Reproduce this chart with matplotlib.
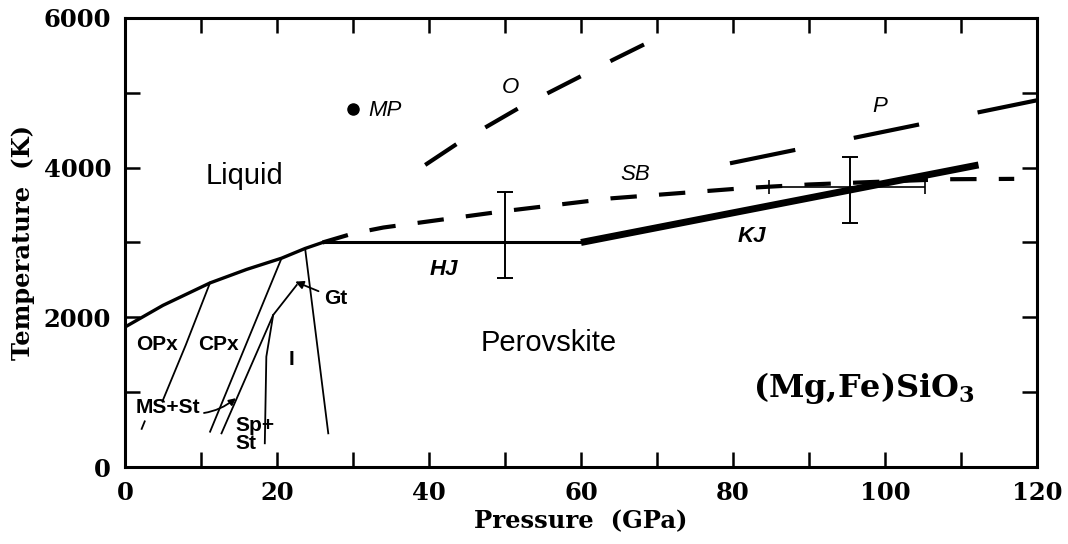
import matplotlib
matplotlib.use("Agg")
import matplotlib.pyplot as plt
from matplotlib.ticker import MultipleLocator

# melting curve (solidus) and perovskite melting curves
melt_p = [0, 5, 11.2, 16, 20.6, 23.7, 26]
melt_t = [1870, 2160, 2460, 2640, 2790, 2920, 3000]
hj_p = [26, 60]
hj_t = [3000, 3000]
kj_p = [60, 112.3]
kj_t = [3000, 4036]
sb_p = [26, 30, 34, 50, 64, 73, 82, 90, 100, 108, 117]
sb_t = [3000, 3120, 3200, 3420, 3590, 3660, 3730, 3775, 3815, 3845, 3850]
o_p = [39.5, 43.8, 47.6, 52, 64.2, 68.7]
o_t = [4036, 4326, 4548, 4807, 5440, 5666]
p_p = [79.6, 120]
p_t = [4058, 4900]
mp_p, mp_t = 30, 4780

# error bars
hj_bar = (50, 3100, 580)
kj_bar_v = (95.4, 3700, 445)
kj_bar_h = (95, 3735, 10.3)

# subsolidus phase boundaries
opx_cpx_hi_p = [11.2, 8.0, 5.0]
opx_cpx_hi_t = [2463, 1630, 895]
opx_cpx_lo_p = [2.6, 2.2]
opx_cpx_lo_t = [610, 510]
line_a_p = [20.6, 11.2]
line_a_t = [2789, 472]
line_b_p = [22.6, 19.5, 12.7]
line_b_t = [2432, 2031, 450]
line_c_p = [19.5, 18.6, 18.4]
line_c_t = [2031, 1474, 317]
line_d_p = [23.7, 26.75]
line_d_t = [2922, 450]

plt.rcParams['lines.scale_dashes'] = False
plt.rcParams['mathtext.default'] = 'regular'

fig = plt.figure(figsize=(10.68, 5.44), dpi=100)
ax = fig.add_axes([0.117, 0.1415, 0.854, 0.8255])

k = 'black'
ax.plot(melt_p, melt_t, color=k, lw=2.4, solid_capstyle='round')
ax.plot(hj_p, hj_t, color=k, lw=2.2)
ax.plot(kj_p, kj_t, color=k, lw=5, solid_capstyle='butt')
ax.plot(sb_p, sb_t, color=k, lw=3, dashes=(19, 16))
ax.plot(o_p, o_t, color=k, lw=3, dashes=(27, 24))
ax.plot(p_p, p_t, color=k, lw=3, dashes=(48, 43))
ax.plot(mp_p, mp_t, 'o', color=k, ms=8)

ax.errorbar(hj_bar[0], hj_bar[1], yerr=hj_bar[2], color=k, lw=1.4,
            capsize=6, capthick=1.4)
ax.errorbar(kj_bar_v[0], kj_bar_v[1], yerr=kj_bar_v[2], color=k, lw=1.4,
            capsize=6, capthick=1.4)
ax.errorbar(kj_bar_h[0], kj_bar_h[1], xerr=kj_bar_h[2], color=k, lw=1.2,
            capsize=5, capthick=1.2)

for xs, ys in [(opx_cpx_hi_p, opx_cpx_hi_t), (opx_cpx_lo_p, opx_cpx_lo_t),
               (line_a_p, line_a_t), (line_b_p, line_b_t),
               (line_c_p, line_c_t), (line_d_p, line_d_t)]:
    ax.plot(xs, ys, color=k, lw=1.3)

sans = 'Liberation Sans'
ax.text(15.7, 3890, 'Liquid', fontsize=21, family=sans, ha='center', va='center')
ax.text(55.7, 1657, 'Perovskite', fontsize=21, family=sans, ha='center', va='center')
ax.text(32, 4770, 'MP', fontsize=16, family=sans, style='italic', va='center')
ax.text(50.7, 5065, 'O', fontsize=16, family=sans, style='italic', ha='center', va='center')
ax.text(99.3, 4815, 'P', fontsize=16, family=sans, style='italic', ha='center', va='center')
ax.text(67.1, 3902, 'SB', fontsize=16, family=sans, style='italic', ha='center', va='center')
ax.text(41.9, 2633, 'HJ', fontsize=16, family=sans, style='italic', weight='bold',
        ha='center', va='center')
ax.text(82.5, 3078, 'KJ', fontsize=16, family=sans, style='italic', weight='bold',
        ha='center', va='center')

ax.text(4.2, 1641, 'OPx', fontsize=15, family=sans, weight='bold', ha='center', va='center')
ax.text(12.3, 1641, 'CPx', fontsize=15, family=sans, weight='bold', ha='center', va='center')
ax.text(21.9, 1443, 'I', fontsize=15, family=sans, weight='bold', ha='center', va='center')
ax.text(14.5, 561, 'Sp+', fontsize=15, family=sans, weight='bold', va='center')
ax.text(14.5, 320, 'St', fontsize=15, family=sans, weight='bold', va='center')
ax.annotate('Gt', xy=(22.4, 2477), xytext=(27.7, 2256), fontsize=15, family=sans,
            weight='bold', ha='center', va='center',
            arrowprops=dict(arrowstyle='-|>', color=k, lw=1.3, mutation_scale=12,
                            shrinkA=2, shrinkB=0))
ax.annotate('MS+St', xy=(14.6, 920), xytext=(5.6, 795), fontsize=15, family=sans,
            weight='bold', ha='center', va='center',
            arrowprops=dict(arrowstyle='-|>', color=k, lw=1.3, mutation_scale=10,
                            shrinkA=1, shrinkB=0, connectionstyle='arc3,rad=0.3'))

ax.text(82.6, 1062, '(Mg,Fe)SiO$_3$', fontsize=23, family='DejaVu Serif',
        weight='bold', va='center')

serif = dict(family='DejaVu Serif', weight='bold', size=17.5)
ax.set_xlim(0, 120)
ax.set_ylim(0, 6000)
ax.xaxis.set_major_locator(MultipleLocator(20))
ax.xaxis.set_minor_locator(MultipleLocator(10))
ax.yaxis.set_major_locator(MultipleLocator(2000))
ax.yaxis.set_minor_locator(MultipleLocator(1000))
ax.tick_params(which='both', direction='in', top=True, right=True,
               length=11, width=1.8)
ax.tick_params(which='major', pad=10)
for lab in ax.get_xticklabels() + ax.get_yticklabels():
    lab.set_fontproperties(serif)
for s in ax.spines.values():
    s.set_linewidth(2.2)
ax.set_xlabel('Pressure  (GPa)', fontdict=serif, labelpad=3)
ax.set_ylabel('Temperature  (K)', fontdict=serif, labelpad=6)

fig.savefig('out.png', dpi=100)
